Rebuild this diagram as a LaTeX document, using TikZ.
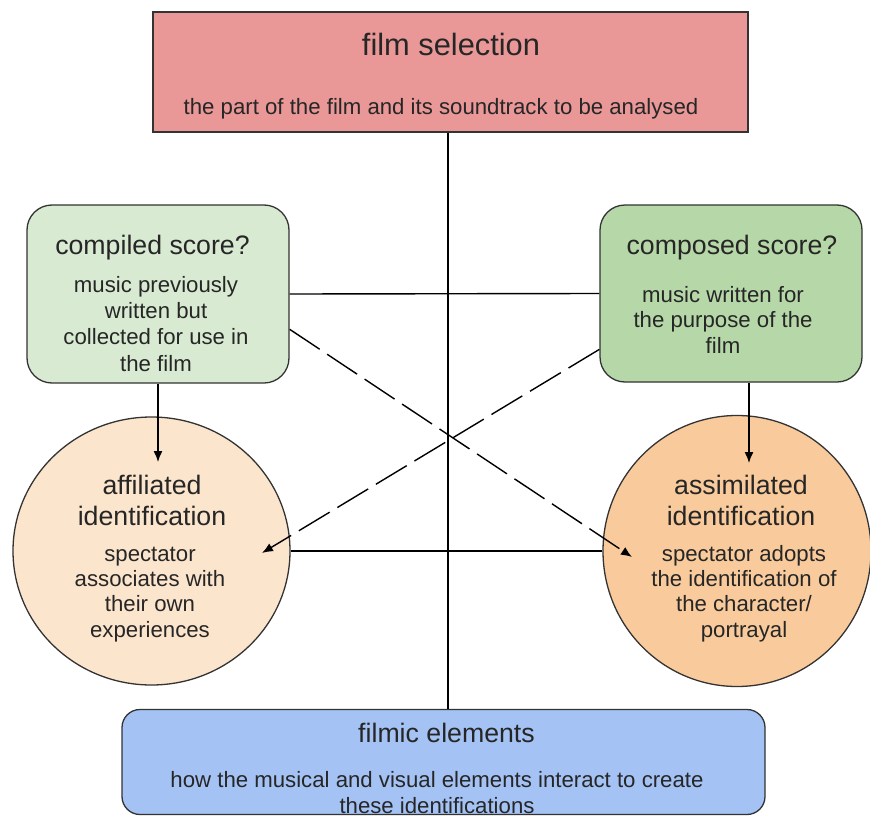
\documentclass[tikz,border=0pt]{standalone}
\usepackage{fontspec}
\setmainfont{Liberation Sans}
\usetikzlibrary{shapes.geometric,arrows.meta}
\definecolor{redfill}{HTML}{E99797}
\definecolor{lgreen}{HTML}{D9EAD3}
\definecolor{dgreen}{HTML}{B6D7A8}
\definecolor{lorange}{HTML}{FCE5CD}
\definecolor{dorange}{HTML}{F9CB9C}
\definecolor{bluefill}{HTML}{A4C2F4}
\definecolor{edge}{HTML}{333333}
\definecolor{txt}{HTML}{262626}
\tikzset{
  shapebox/.style={draw=edge, line width=1.3pt, inner sep=0pt},
  bigttl/.style={font=\fontsize{30.8}{36}\selectfont, align=center, anchor=base, inner sep=0pt, text=txt},
  ttl/.style={font=\fontsize{26.7}{31}\selectfont, align=center, anchor=base, inner sep=0pt, text=txt},
  bdy/.style={font=\fontsize{22.2}{25.2}\selectfont, align=center, anchor=base, inner sep=0pt, text=txt},
  conn/.style={draw=black, line width=1.4pt},
  tip/.style={-{Latex[length=11pt,width=9pt]}},
  dashline/.style={dash pattern=on 36pt off 9pt}
}
\begin{document}
\begin{tikzpicture}[x=1pt,y=-1pt]
\useasboundingbox (0,0) rectangle (870,816);
% shapes
\node[shapebox, fill=redfill, minimum width=595, minimum height=120] (top) at (450.5,72) {};
\node[shapebox, fill=lgreen, rounded corners=25pt, minimum width=262, minimum height=178] (lbox) at (158,294) {};
\node[shapebox, fill=dgreen, rounded corners=25pt, minimum width=262, minimum height=177] (rbox) at (731,293.5) {};
\node[shapebox, fill=lorange, ellipse, minimum width=277, minimum height=268] (aff) at (151.5,551) {};
\node[shapebox, fill=dorange, ellipse, minimum width=268, minimum height=271] (ass) at (737,551) {};
\node[shapebox, fill=bluefill, rounded corners=18pt, minimum width=643, minimum height=105] (bot) at (443.5,762) {};
% connectors
\coordinate (vx) at (448,0);
\draw[conn] (top.south -| vx) -- (bot.north -| vx);
\draw[conn] (lbox.east) -- (rbox.west);
\draw[conn] (aff.east) -- (ass.west);
\coordinate (atip) at (158,462);
\draw[conn, tip] (lbox.south) -- (atip);
\coordinate (rx) at (749,0);
\coordinate (btip) at (749,463);
\draw[conn, tip] (rbox.south -| rx) -- (btip);
\coordinate (d1e) at (632,557);
\coordinate (d2e) at (262,553);
\draw[conn, dashline, tip] (lbox.-15.8) -- (d1e);
\draw[conn, dashline, tip] (rbox.203.3) -- (d2e);
% texts (multi-line nodes: base = baseline of last line)
\node[bigttl] (topt) at (451,56) {film selection};
\node[bdy] (tops) at (441,114) {the part of the film and its soundtrack to be analysed};
\node[ttl] (lboxt) at (152.5,254) {compiled score?};
\node[bdy, font=\fontsize{22.2}{26.3}\selectfont] (lboxb) at (156,371) {music previously\\written but\\collected for use in\\the film};
\node[ttl] (rboxt) at (732,254) {composed score?};
\node[bdy, font=\fontsize{22.2}{25.5}\selectfont] (rboxb) at (723,353) {music written for\\the purpose of the\\film};
\node[ttl] (afft) at (152,525) {affiliated\\identification};
\node[bdy] (affb) at (150,637) {spectator\\associates with\\their own\\experiences};
\node[ttl] (asst) at (741,525) {assimilated\\identification};
\node[bdy] (assb) at (744,637) {spectator adopts\\the identification of\\the character/\\portrayal};
\node[ttl] (bott) at (446.5,742) {filmic elements};
\node[bdy] (botb) at (437,813) {how the musical and visual elements interact to create\\these identifications};
\end{tikzpicture}
\end{document}
